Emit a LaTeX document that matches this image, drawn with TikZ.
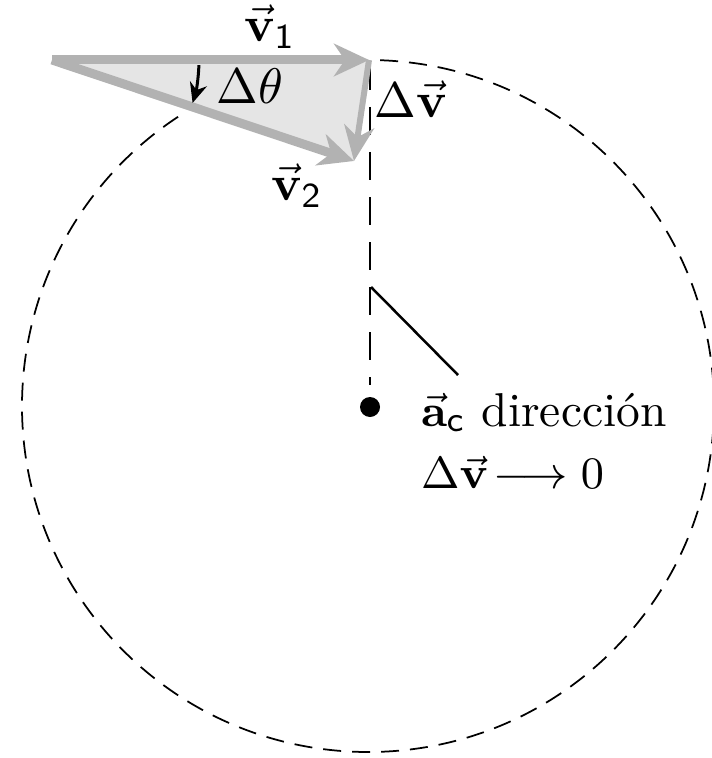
\documentclass[tikz,border=0pt]{standalone}
\usepackage{amsmath,amssymb}
\usetikzlibrary{arrows.meta}

\begin{document}
\begin{tikzpicture}[x=0.2pt, y=-0.2pt, every node/.style={font=\fontsize{10}{12}\selectfont},
    vel/.style={draw=gray!60, line width=1.8pt, -{Stealth[length=7pt, width=6.5pt, inset=2.2pt]}},
    dvel/.style={draw=gray!60, line width=1.2pt, -{Stealth[length=7pt, width=6pt, inset=2.2pt]}},
    circ/.style={line width=0.35pt, dash pattern=on 3.6pt off 2.2pt},
    radial/.style={line width=0.5pt, dash pattern=on 5.6pt off 3.4pt}]
    \useasboundingbox (0,0) rectangle (711,758);
    % points of the vector triangle
    \coordinate (O) at (52,60);
    \coordinate (P1) at (369,60);
    \coordinate (P2) at (354,161);
    \coordinate (ctr) at (368,406);
    \fill[gray!20] (O) -- (P1) -- (P2) -- cycle;
    % path of the motion
    \draw[circ] (ctr) ++(-88:346) arc[start angle=-88, end angle=237, radius=346];
    \node[circle, fill=black, inner sep=0pt, minimum size=4pt] (c) at (370,407) {};
    \coordinate (top) at (370,62);
    \draw[radial] (top) -- ([yshift=2.2pt]c.north);
    % vectors
    \draw[vel] (O) -- (P1);
    \draw[vel] (O) -- (P2);
    \draw[dvel] (P1) -- (P2);
    \draw[-{Stealth[length=4pt, width=3.5pt]}, line width=0.6pt] (O) ++(2:147) arc[start angle=2, end angle=17, radius=147];
    % labels
    \node (v1) at (270,27) {$\vec{\mathbf v}_{\mathsf 1}$};
    \node (v2) at (297,186) {$\vec{\mathbf v}_{\mathsf 2}$};
    \node (dv) at (411,99) {$\Delta\vec{\mathbf v}$};
    \node (dth) at (250,86) {$\Delta\theta$};
    \node[anchor=north west, align=left, inner sep=0pt, font=\fontsize{9.5}{11.5}\selectfont] (lbl) at (420,392)
        {$\vec{\mathbf a}_{\mathsf c}$ dirección\\[1pt]$\Delta\vec{\mathbf v}\!\longrightarrow 0$};
    \coordinate (tip) at (371,287);
    \coordinate (lead) at (458,375);
    \draw[line width=0.5pt] (tip) -- (lead);
\end{tikzpicture}
\end{document}
